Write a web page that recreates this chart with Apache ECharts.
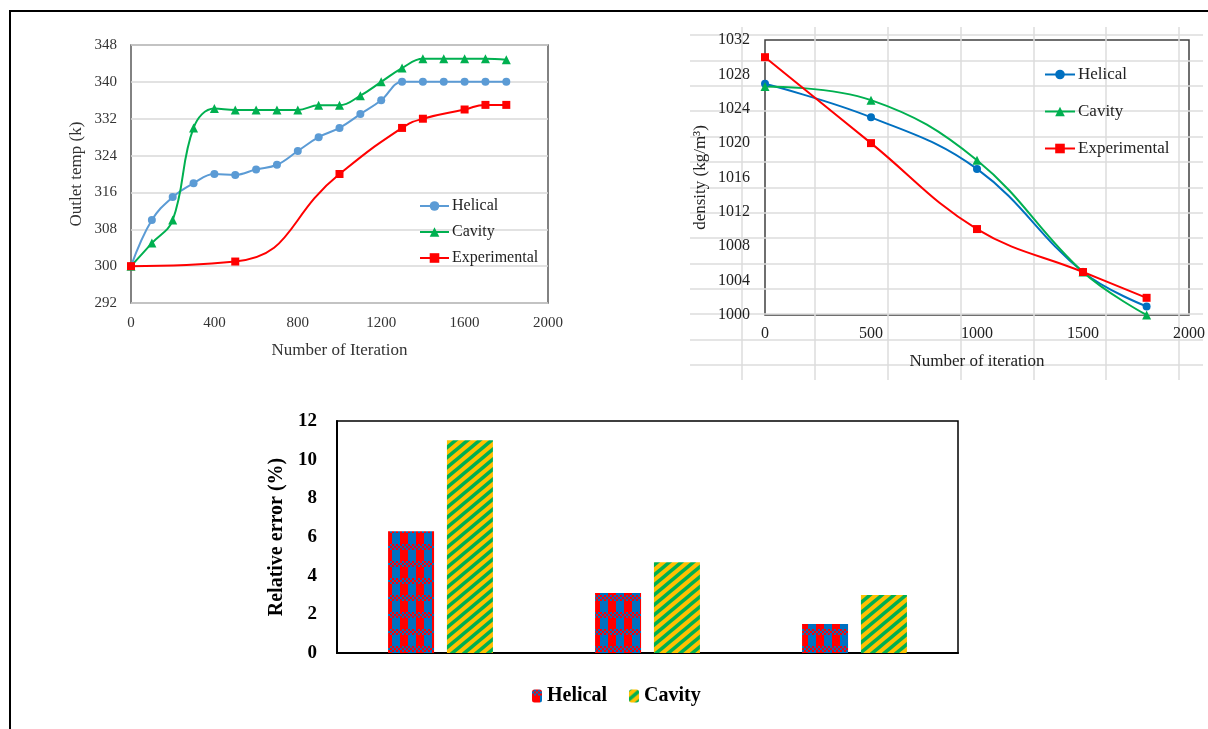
<!DOCTYPE html>
<html>
<head>
<meta charset="utf-8">
<script src="https://cdn.jsdelivr.net/npm/echarts@6/dist/echarts.min.js"></script>
<style>
html,body{margin:0;padding:0;background:#fff;}
#frame{position:absolute;left:9px;top:10px;width:1199px;height:719px;border-left:2px solid #000;border-top:2px solid #000;box-sizing:border-box;}
#chart{position:absolute;left:0;top:0;width:1208px;height:729px;}
</style>
</head>
<body>
<div id="frame"></div>
<div id="chart"></div>
<script>
// ---- Chart 1: Outlet temperature vs iteration ----
const iterT = [0,100,200,300,400,500,600,700,800,900,1000,1100,1200,1300,1400,1500,1600,1700,1800];
const tempHelical = [300,310,315,318,320,319.8,321,322,325,328,330,333,336,340,340,340,340,340,340];
const tempCavity  = [300,305,310,330,334.2,333.9,333.9,333.9,333.9,334.9,334.9,337,340,343,345,345,345,345,344.8];
const iterTExp = [0,500,1000,1300,1400,1600,1700,1800];
const tempExp  = [300,301,320,330,332,334,335,335];

// ---- Chart 2: Density vs iteration ----
const iterD = [0,500,1000,1500,1800];
const densHelical = [1026.9,1023,1017,1005,1001];
const densCavity  = [1026.6,1025,1018,1005,1000];
const densExp     = [1030,1020,1010,1005,1002];

// ---- Chart 3: Relative error ----
const errCategories = ['Case 1','Case 2','Case 3'];
const errHelical = [6.3,3.1,1.5];
const errCavity  = [11,4.7,3.0];

const serif = '"Liberation Serif","Times New Roman",serif';
const plain = v => String(v);

function helicalPattern(){
  const c=document.createElement('canvas'); c.width=16; c.height=17;
  const g=c.getContext('2d');
  g.fillStyle='#FF0000'; g.fillRect(0,0,8,17);
  g.fillStyle='#0070C0'; g.fillRect(8,0,8,17);
  for(let y=0;y<6;y+=2){for(let x=0;x<16;x+=2){
    g.fillStyle=((x+y)/2)%2===0?'#FF0000':'#0070C0'; g.fillRect(x,y,2,2);}}
  return c;
}
function cavityPattern(){
  const w=12,h=10;
  const c=document.createElement('canvas'); c.width=w; c.height=h;
  const g=c.getContext('2d');
  g.fillStyle='#FFC000'; g.fillRect(0,0,w,h);
  g.strokeStyle='#00B050'; g.lineWidth=3.6;
  for(let k=-1;k<=1;k++){g.beginPath(); g.moveTo(-2, h+k*h+2*h/w); g.lineTo(w+2, k*h-2*h/w); g.stroke();}
  return c;
}

const pts = (xs,ys)=>xs.map((x,i)=>[x,ys[i]]);
const chart = echarts.init(document.getElementById('chart'));
const hiddenAxis = {show:true, axisLine:{show:false}, axisTick:{show:false}, axisLabel:{show:false}};

chart.setOption({
  animation:false,
  grid:[
    {left:131, top:45, width:417, height:258, show:true, borderColor:'#595959', borderWidth:1.5, backgroundColor:'transparent'},
    {left:765, top:40, width:424, height:275, show:true, borderColor:'#404040', borderWidth:1.5, backgroundColor:'transparent'},
    {left:337, top:421, width:621, height:232, show:true, borderColor:'#000', borderWidth:1.5, backgroundColor:'transparent'},
    {left:690, top:35, width:513, height:330, show:false},
    {left:742, top:27, width:437, height:353, show:false}
  ],
  xAxis:[
    {gridIndex:0, type:'value', min:0, max:2000, interval:400, axisLine:{show:false}, axisTick:{show:false}, splitLine:{show:false},
     axisLabel:{fontFamily:serif, fontSize:15, color:'#333', margin:13, formatter:plain},
     name:'Number of Iteration', nameLocation:'middle', nameGap:39, nameTextStyle:{fontFamily:serif, fontSize:17, color:'#333'}},
    {gridIndex:1, type:'value', min:0, max:2000, interval:500, axisLine:{show:false}, axisTick:{show:false}, splitLine:{show:false},
     axisLabel:{fontFamily:serif, fontSize:16, color:'#222', margin:11, formatter:plain},
     name:'Number of iteration', nameLocation:'middle', nameGap:38, nameTextStyle:{fontFamily:serif, fontSize:17, color:'#222'}},
    {gridIndex:2, type:'category', data:errCategories, axisLine:{lineStyle:{color:'#000', width:2}}, axisTick:{show:false}, axisLabel:{show:false}},
    Object.assign({gridIndex:3, type:'value', min:0, max:1, splitLine:{show:false}}, hiddenAxis),
    Object.assign({gridIndex:4, type:'value', min:0, max:6, interval:1, splitLine:{show:true, lineStyle:{color:'#dcdcdc', width:1.5}}}, hiddenAxis)
  ],
  yAxis:[
    {gridIndex:0, type:'value', min:292, max:348, interval:8, axisLine:{show:false}, axisTick:{show:false},
     splitLine:{lineStyle:{color:'#d9d9d9', width:1.5}},
     axisLabel:{fontFamily:serif, fontSize:15, color:'#333', margin:14, formatter:plain},
     name:'Outlet temp (k)', nameLocation:'middle', nameGap:46, nameTextStyle:{fontFamily:serif, fontSize:17, color:'#333'}},
    {gridIndex:1, type:'value', min:1000, max:1032, interval:4, axisLine:{show:false}, axisTick:{show:false}, splitLine:{show:false},
     axisLabel:{fontFamily:serif, fontSize:16, color:'#222', margin:15, formatter:plain},
     name:'density (kg/m³)', nameLocation:'middle', nameGap:56, nameTextStyle:{fontFamily:serif, fontSize:17, color:'#222'}},
    {gridIndex:2, type:'value', min:0, max:12, interval:2, axisLine:{show:true, lineStyle:{color:'#000', width:2}}, axisTick:{show:false}, splitLine:{show:false},
     axisLabel:{fontFamily:serif, fontSize:19, fontWeight:'bold', color:'#000', margin:20, formatter:plain},
     name:'Relative error (%)', nameLocation:'middle', nameGap:48, nameTextStyle:{fontFamily:serif, fontSize:20, fontWeight:'bold', color:'#000'}},
    Object.assign({gridIndex:3, type:'value', min:0, max:13, interval:1, splitLine:{show:true, lineStyle:{color:'#dcdcdc', width:1.5}}}, hiddenAxis),
    Object.assign({gridIndex:4, type:'value', min:0, max:1, splitLine:{show:false}}, hiddenAxis)
  ],
  legend:[
    {orient:'vertical', left:419, top:198, padding:0, itemWidth:29, itemHeight:12, itemGap:10,
     data:['Helical','Cavity','Experimental'], selectedMode:false,
     textStyle:{fontFamily:serif, fontSize:16, color:'#222', padding:[0,0,0,-2]}},
    {orient:'vertical', left:1044, top:66, padding:0, itemWidth:30, itemHeight:12, itemGap:20,
     data:['Helical ','Cavity ','Experimental '], selectedMode:false,
     textStyle:{fontFamily:serif, fontSize:17, color:'#222', padding:[0,0,0,-2]}},
    {orient:'horizontal', left:532, top:686, padding:0, itemWidth:10, itemHeight:13, itemGap:12,
     data:['Helical  ','Cavity  '], selectedMode:false,
     textStyle:{fontFamily:serif, fontSize:20, fontWeight:'bold', color:'#000'}}
  ],
  series:[
    {name:'Helical', type:'line', xAxisIndex:0, yAxisIndex:0, data:pts(iterT,tempHelical), smooth:0.4,
     symbol:'circle', symbolSize:8, lineStyle:{color:'#5B9BD5', width:2}, itemStyle:{color:'#5B9BD5'}},
    {name:'Cavity', type:'line', xAxisIndex:0, yAxisIndex:0, data:pts(iterT,tempCavity), smooth:0.4,
     symbol:'triangle', symbolSize:9, lineStyle:{color:'#00B050', width:2}, itemStyle:{color:'#00B050'}},
    {name:'Experimental', type:'line', xAxisIndex:0, yAxisIndex:0, data:pts(iterTExp,tempExp), smooth:0.5,
     symbol:'rect', symbolSize:8, lineStyle:{color:'#FF0000', width:2}, itemStyle:{color:'#FF0000'}},
    {name:'Helical ', type:'line', xAxisIndex:1, yAxisIndex:1, data:pts(iterD,densHelical), smooth:0.4,
     symbol:'circle', symbolSize:8, lineStyle:{color:'#0070C0', width:2}, itemStyle:{color:'#0070C0'}},
    {name:'Cavity ', type:'line', xAxisIndex:1, yAxisIndex:1, data:pts(iterD,densCavity), smooth:0.4,
     symbol:'triangle', symbolSize:9, lineStyle:{color:'#00B050', width:2}, itemStyle:{color:'#00B050'}},
    {name:'Experimental ', type:'line', xAxisIndex:1, yAxisIndex:1, data:pts(iterD,densExp), smooth:0.4,
     symbol:'rect', symbolSize:8, lineStyle:{color:'#FF0000', width:2}, itemStyle:{color:'#FF0000'}},
    {name:'Helical  ', type:'bar', xAxisIndex:2, yAxisIndex:2, data:errHelical, barWidth:46, barGap:'28%',
     itemStyle:{color:{image:helicalPattern(), repeat:'repeat'}}},
    {name:'Cavity  ', type:'bar', xAxisIndex:2, yAxisIndex:2, data:errCavity, barWidth:46,
     itemStyle:{color:{image:cavityPattern(), repeat:'repeat'}}}
  ]
});
</script>
</body>
</html>
